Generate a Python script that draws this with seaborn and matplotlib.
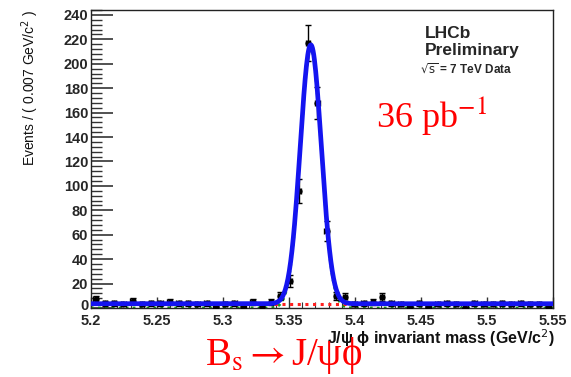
import numpy as np
import pandas as pd
import matplotlib
matplotlib.use("Agg")
import matplotlib.pyplot as plt
import matplotlib.transforms as mtransforms
from matplotlib.ticker import MultipleLocator
import seaborn as sns

# ---- data ----
bin_width = 0.007
mass_low = 5.2
counts = [7, 4, 4, 3, 6, 3, 4, 4, 5, 4,
          4, 3, 4, 2, 3, 4, 2, 5, 2, 5,
          10, 22, 96, 217, 168, 63, 10, 9, 3, 4,
          5, 9, 4, 3, 2, 4, 1, 3, 4, 3,
          0, 4, 3, 3, 4, 3, 4, 3, 3, 2]
# fit parameters
fit_mean = 5.3665
fit_sigma = 0.0080
fit_peak = 212.0
fit_bkg = 3.5

x_ticks = [5.2, 5.25, 5.3, 5.35, 5.4, 5.45, 5.5, 5.55]
y_ticks = [0, 20, 40, 60, 80, 100, 120, 140, 160, 180, 200, 220, 240]

sns.set_theme(style="white")
plt.rcParams['font.family'] = ['Liberation Sans', 'DejaVu Sans']

centres = mass_low + bin_width * (np.arange(len(counts)) + 0.5)
df = pd.DataFrame({"mass": centres, "events": counts})
df["err"] = np.sqrt(df["events"])

xs = np.linspace(5.2, 5.55, 700)
sig = fit_peak * np.exp(-0.5 * ((xs - fit_mean) / fit_sigma) ** 2)
curves = pd.DataFrame({"mass": xs, "signal": sig,
                       "bkg": np.full_like(xs, fit_bkg),
                       "total": sig + fit_bkg})

fig = plt.figure(figsize=(5.71, 3.77), dpi=100)
ax = fig.add_axes([91 / 571, 1 - 308 / 377, 462 / 571, 298 / 377])

# components
sns.lineplot(data=curves, x="mass", y="signal", ax=ax, color="#1a9a1a",
             linestyle=(0, (1, 1.5)), linewidth=2.0, zorder=2)
sns.lineplot(data=curves, x="mass", y="bkg", ax=ax, color="#ff2020",
             linestyle=(0, (1, 1.5)), linewidth=2.2, zorder=2)
# data points
ax.errorbar(df["mass"], df["events"], yerr=df["err"], xerr=bin_width / 2 * 0.5,
            fmt="none", ecolor="black", elinewidth=1.0, capsize=2.5, zorder=3)
sns.scatterplot(data=df, x="mass", y="events", ax=ax, color="black", s=20,
                edgecolor="black", linewidth=0, zorder=4)
# total fit
sns.lineplot(data=curves, x="mass", y="total", ax=ax, color="#1414f0",
             linewidth=3.4, zorder=5)

ax.set_xlim(5.2, 5.55)
ax.set_ylim(0, 244)
ax.set_xticks(x_ticks)
ax.set_yticks(y_ticks)
ax.set_xticklabels([f"{t:g}" for t in x_ticks], fontsize=10.5, fontweight="bold")
ax.set_yticklabels([str(t) for t in y_ticks], fontsize=10.5, fontweight="bold")
ax.xaxis.set_minor_locator(MultipleLocator(0.01))
ax.yaxis.set_minor_locator(MultipleLocator(4))
ax.tick_params(axis="y", which="major", direction="in", length=16, width=1.2,
               left=True, right=False, pad=2, color="#333333")
ax.tick_params(axis="y", which="minor", direction="in", length=8, width=1.0,
               left=True, right=False, color="#333333")
ax.tick_params(axis="x", which="major", direction="in", length=8, width=1.0,
               bottom=True, top=False, pad=4, color="#333333")
ax.tick_params(axis="x", which="minor", direction="in", length=4, width=0.8,
               bottom=True, top=False, color="#333333")
for sp in ax.spines.values():
    sp.set_color("#222222")
    sp.set_linewidth(1.0)

# nudge the "0" label up slightly so it clears the "5.2" label
zero_lbl = ax.get_yticklabels()[0]
zero_lbl.set_transform(zero_lbl.get_transform() +
                       mtransforms.ScaledTranslation(0, 3 / 100, fig.dpi_scale_trans))

ax.set_xlabel("")
ax.set_ylabel("")
fig.text(555 / 571, 1 - 338 / 377, r"J/ψ ϕ invariant mass (GeV/c$^{2}$)",
         ha="right", va="center", fontsize=11.5, fontweight="bold", color="#111111")
fig.text(30 / 571, 1 - 10 / 377, r"Events / ( 0.007 GeV/c$^{2}$ )",
         rotation=90, ha="center", va="top", fontsize=10, color="#111111")

fig.text(425 / 571, 1 - 33 / 377, "LHCb", ha="left", va="center",
         fontsize=12.5, fontweight="bold")
fig.text(425 / 571, 1 - 51 / 377, "Preliminary", ha="left", va="center",
         fontsize=12.5, fontweight="bold")
fig.text(420 / 571, 1 - 70 / 377, r"$\sqrt{\mathrm{s}}$ = 7 TeV Data", ha="left",
         va="center", fontsize=8.5, fontweight="bold")

fig.text(376 / 571, 1 - 115 / 377, r"36 pb$^{\mathrm{-1}}$", ha="left", va="center",
         fontsize=26, color="red", family=["Liberation Serif", "DejaVu Serif"],
         math_fontfamily="stix")
fig.text(205 / 571, 1 - 376 / 377, r"B$_{\mathrm{s}}$$\rightarrow$J/ψϕ",
         ha="left", va="bottom", fontsize=28, color="red",
         family=["Liberation Serif", "DejaVu Serif"], math_fontfamily="stix")

fig.savefig("out.png", dpi=100)
